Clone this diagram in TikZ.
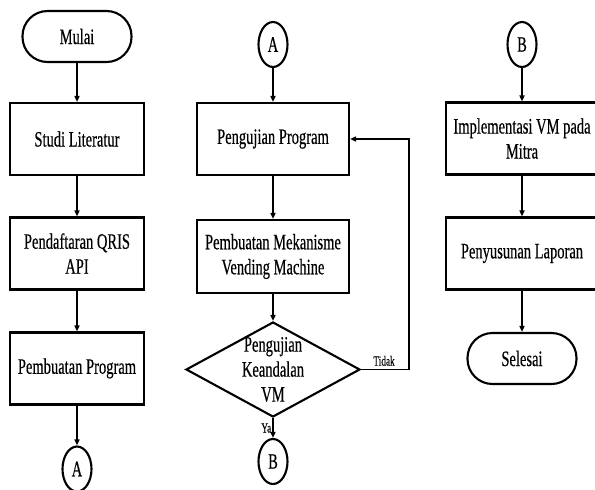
\documentclass[tikz,border=0pt]{standalone}
\usepackage{fontspec}
\setmainfont{Liberation Serif}[FakeStretch=0.66,FakeBold=0.4]
\usetikzlibrary{shapes.geometric,arrows.meta}
\tikzset{
  box/.style={draw,line width=2.1pt,minimum height=72pt,inner sep=2pt,align=center,font=\fontsize{22}{25}\selectfont},
  boxa/.style={box,minimum width=134pt},
  boxb/.style={box,minimum width=152pt},
  term/.style={draw,line width=2.1pt,rounded corners=25pt,minimum width=109pt,minimum height=51pt,font=\fontsize{22}{25}\selectfont},
  conn/.style={draw,ellipse,line width=2.1pt,minimum width=29pt,minimum height=45pt,inner sep=0pt,font=\fontsize{22}{25}\selectfont},
  dec/.style={draw,diamond,line width=2.1pt,minimum width=174pt,minimum height=95pt,inner sep=0pt},
  arr/.style={line width=1.6pt,-{Triangle[length=6pt,width=5pt]}},
  lab/.style={font=\fontsize{14}{16}\selectfont,inner sep=1pt}
}
\begin{document}
\begin{tikzpicture}[x=1pt,y=-1pt]
\useasboundingbox (0,0) rectangle (595,490);
\clip (0,0) rectangle (595,490);
% column 1
\node[term] (mulai) at (77,36.5) {Mulai};
\node[boxa] (studi) at (77,139) {Studi Literatur};
\node[boxa] (daftar) at (77,253.5) {Pendaftaran QRIS\\API};
\node[boxa] (prog) at (77,368.5) {Pembuatan Program};
\node[conn] (a1) at (77,469) {A};
% column 2
\node[conn] (a2) at (273,44.5) {A};
\node[boxb] (uji) at (273,139) {Pengujian Program};
\node[boxb,minimum height=73pt] (meka) at (273,256.5) {Pembuatan Mekanisme\\Vending Machine};
\node[dec] (kend) at (273,369.5) {};
\node[align=center,font=\fontsize{22}{25}\selectfont,inner sep=0pt] (kendt) at (273,369.5) {Pengujian\\Keandalan\\VM};
\node[conn] (b2) at (273,461.5) {B};
\coordinate (r1) at (409,369.5);
\coordinate (r2) at (409,139);
% column 3
\node[conn] (b3) at (522,44.5) {B};
\node[boxb] (impl) at (522,138.5) {Implementasi VM pada\\Mitra};
\node[boxb] (lap) at (522,253.5) {Penyusunan Laporan};
\node[term] (selesai) at (522,358.5) {Selesai};
% arrows
\draw[arr] (mulai) -- (studi);
\draw[arr] (studi) -- (daftar);
\draw[arr] (daftar) -- (prog);
\draw[arr] (prog) -- (a1);
\draw[arr] (a2) -- (uji);
\draw[arr] (uji) -- (meka);
\draw[arr] (meka.south) -- (kend.north);
\draw[arr] (kend.south) -- node[lab,left,pos=0.5] {Ya} (b2.north);
\draw[arr] (kend.east) -- node[lab,above,pos=0.48,yshift=2pt] {Tidak} (r1) -- (r2) -- (uji.east);
\draw[arr] (b3) -- (impl);
\draw[arr] (impl) -- (lap);
\draw[arr] (lap) -- (selesai);
\end{tikzpicture}
\end{document}
